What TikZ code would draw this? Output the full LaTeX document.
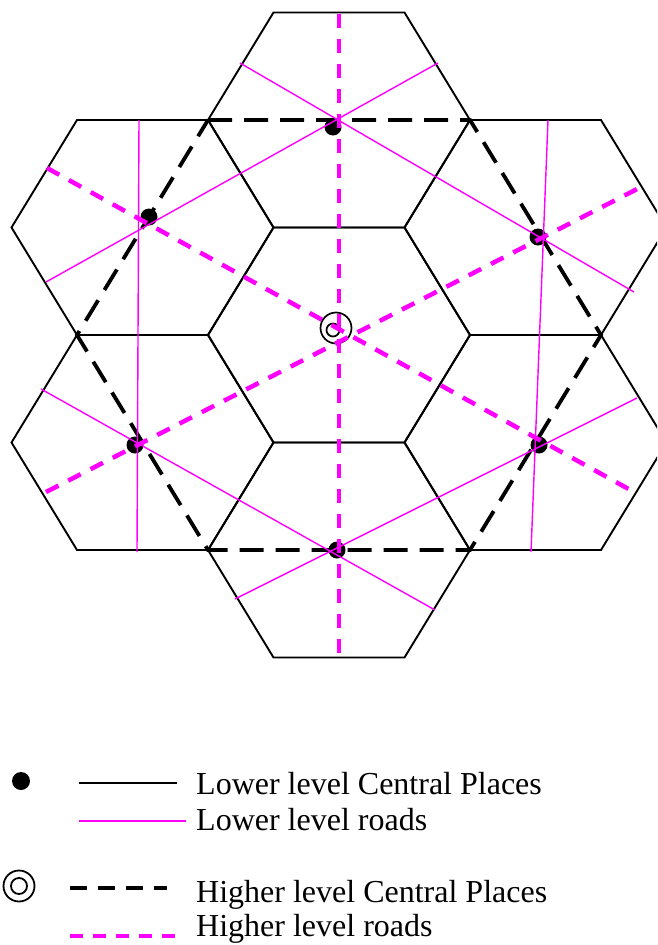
\documentclass[tikz,border=0pt]{standalone}
\usepackage{fontspec}
\setmainfont{Liberation Serif}
\definecolor{mag}{RGB}{255,0,255}
\tikzset{
  hexline/.style={draw=black, line width=1.9pt, line join=miter},
  hidash/.style={draw=black, line width=3.8pt, dash pattern=on 24pt off 12pt},
  lowroad/.style={draw=mag, line width=1.4pt},
  hiroad/.style={draw=mag, line width=4.5pt, dash pattern=on 14pt off 11pt},
  cplace/.style={fill=black},
  legtext/.style={anchor=base west, inner sep=0pt, font=\fontsize{32}{38}\selectfont}
}
\begin{document}
\begin{tikzpicture}[x=1pt,y=-1pt]
\useasboundingbox (0,0) rectangle (657,945);
\begin{scope}
\clip (0,0) rectangle (657,945);
% lower level hexagons
\foreach \cx/\cy in {339/335, 339/120, 339/550, 142.5/227.5, 535.5/227.5, 142.5/442.5, 535.5/442.5}{
  \draw[hexline, shift={(\cx,\cy)}] (-131,0) -- (-65.5,-107.5) -- (65.5,-107.5) -- (131,0) -- (65.5,107.5) -- (-65.5,107.5) -- cycle;
}
% higher level market area
\draw[hidash, shift={(339,335)}] (-131,-215) -- (131,-215) -- (262,0) -- (131,215) -- (-131,215) -- (-262,0) -- cycle;
% lower level central places
\coordinate (ct) at (333,127);
\coordinate (cul) at (149,217);
\coordinate (cur) at (538,237);
\coordinate (cll) at (135,445);
\coordinate (clr) at (539,445);
\coordinate (cb) at (337,550);
\foreach \p in {ct,cul,cur,cll,clr,cb}{\fill[cplace] (\p) circle (8.5);}
% higher level central place
\coordinate (hc) at (336,328);
\draw[line width=1.7pt] (hc) circle (15.5);
\draw[line width=1.7pt] (333,330) circle (6.5);
% lower level roads
\coordinate (l1a) at (139,120); \coordinate (l1b) at (137,552);
\coordinate (l2a) at (548,120); \coordinate (l2b) at (531,552);
\coordinate (l3a) at (240,63);  \coordinate (l3b) at (634,292);
\coordinate (l4a) at (438,63);  \coordinate (l4b) at (46,282);
\coordinate (l5a) at (41,389);  \coordinate (l5b) at (435,610);
\coordinate (l6a) at (235,599); \coordinate (l6b) at (637,398);
\foreach \a/\b in {l1a/l1b, l2a/l2b, l3a/l3b, l4a/l4b, l5a/l5b, l6a/l6b}{\draw[lowroad] (\a) -- (\b);}
% higher level roads
\coordinate (h1a) at (339,14);  \coordinate (h1b) at (339,660);
\coordinate (h2a) at (47,168);  \coordinate (h2b) at (634,492);
\coordinate (h3a) at (46,492);  \coordinate (h3b) at (643,186);
\foreach \a/\b in {h1a/h1b, h2a/h2b, h3a/h3b}{\draw[hiroad] (\a) -- (\b);}
% legend
\fill[cplace] (21,781) circle (9);
\coordinate (k1a) at (79,783); \coordinate (k1b) at (177,783);
\draw[draw=black, line width=2pt] (k1a) -- (k1b);
\node[legtext] (t1) at (196,794) {Lower level Central Places};
\coordinate (k2a) at (79,821); \coordinate (k2b) at (186,821);
\draw[lowroad] (k2a) -- (k2b);
\node[legtext] (t2) at (196,830) {Lower level roads};
\draw[line width=1.8pt] (19,886) circle (15.5);
\draw[line width=1.8pt] (19,886) circle (8);
\coordinate (k3a) at (70,888); \coordinate (k3b) at (167,888);
\draw[draw=black, line width=4.5pt, dash pattern=on 17pt off 11pt] (k3a) -- (k3b);
\node[legtext] (t3) at (196,902) {Higher level Central Places};
\coordinate (k4a) at (70,936); \coordinate (k4b) at (176,936);
\draw[draw=mag, line width=4.5pt, dash pattern=on 13pt off 10pt] (k4a) -- (k4b);
\node[legtext] (t4) at (196,936) {Higher level roads};
\end{scope}
\end{tikzpicture}
\end{document}
